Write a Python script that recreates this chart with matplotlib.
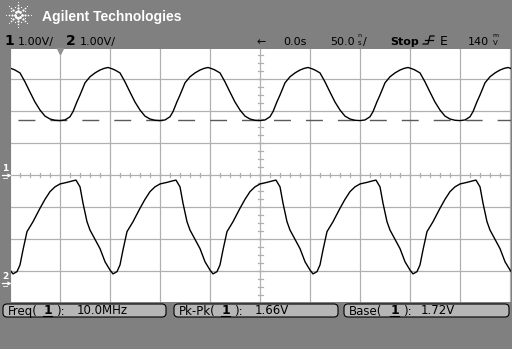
import numpy as np
import matplotlib.pyplot as plt
from matplotlib.patches import FancyBboxPatch

# one period of each trace: ns from period start, volts
ch1_t = [0, 4, 8, 12, 15, 20, 25, 30, 35, 40, 45, 50, 55, 60, 65, 70, 73, 77, 80, 85, 90, 95, 100]
ch1_v = [3.28, 3.33, 3.36, 3.32, 3.28, 3.19, 2.91, 2.59, 2.28, 2.03, 1.84, 1.75, 1.71, 1.70,
         1.72, 1.82, 1.98, 2.29, 2.50, 2.88, 3.07, 3.19, 3.28]
ch2_t = [0, 5, 10, 13, 17, 20, 23, 27, 33, 40, 45, 50, 55, 60, 67, 73, 76, 80, 83, 87, 90, 97, 100]
ch2_v = [1.06, 0.65, 0.39, 0.27, 0.34, 0.55, 1.02, 1.59, 1.90, 2.32, 2.60, 2.84, 2.99, 3.08,
         3.13, 3.18, 3.20, 2.99, 2.48, 1.90, 1.64, 1.23, 1.06]
period_starts = [-260, -160, -60, 40, 140, 240]   # ns, where each period begins on screen

ch_offsets = [0.0, -3.36]      # ground marker position, divisions from centre
volts_per_div = [1.00, 1.00]
base_level = 1.72

meas_names = ['Freq(', 'Pk-Pk(', 'Base(']
meas_values = ['10.0MHz', '1.66V', '1.72V']

BG = '#808080'
GRID = '#b0b0b0'


def build_trace(t_cycle, v_cycle):
    t_all, v_all = [], []
    for s in period_starts:
        t_all += [s + t for t in t_cycle[:-1]]
        v_all += v_cycle[:-1]
    t_all.append(period_starts[-1] + t_cycle[-1])
    v_all.append(v_cycle[-1])
    return np.array(t_all), np.array(v_all)


def screen(fig):
    ax = fig.add_axes([11 / 512, 1 - 302 / 349, 500 / 512, (302 - 49) / 349])
    ax.set_facecolor('white')
    ax.set_xlim(-249, 251)
    ax.set_ylim((175 - 302) / 32, (175 - 49) / 32)
    for s in ax.spines.values():
        s.set_visible(False)
    ax.set_xticks([])
    ax.set_yticks([])

    for k in range(-5, 6):
        ax.axvline(k * 50, color=GRID, lw=0.9)
    for k in range(-3, 4):
        ax.axhline(k, color=GRID, lw=0.9)
    # minor ticks on the centre lines
    for t in range(-240, 250, 10):
        ax.plot([t, t], [-0.07, 0.07], color=GRID, lw=0.9)
    for d in np.arange(-3.75, 4.0, 0.25):
        ax.plot([-2.5, 2.5], [d, d], color=GRID, lw=0.9)

    # base level marker of channel 1
    ax.axhline(ch_offsets[0] + base_level / volts_per_div[0], color='#5a5a5a', lw=1.0,
               linestyle=(18, (12.2, 10.8)))

    t1, v1 = build_trace(ch1_t, ch1_v)
    t2, v2 = build_trace(ch2_t, ch2_v)
    ax.plot(t1, ch_offsets[0] + v1 / volts_per_div[0], color='black', lw=1.0)
    ax.plot(t2, ch_offsets[1] + v2 / volts_per_div[1], color='black', lw=1.0)

    # trigger position marker
    ax.plot([-200], [3.87], marker='v', ms=5, color='#909090', clip_on=False)
    return ax


def overlay(fig):
    ov = fig.add_axes([0, 0, 1, 1])
    ov.set_xlim(0, 512)
    ov.set_ylim(349, 0)
    ov.axis('off')
    ov.patch.set_alpha(0)

    # Agilent spark logo
    cx, cy = 18, 14.5
    for a in range(8):
        ang = a * np.pi / 4
        for r, sz in [(3.5, 2.0), (6.5, 1.6), (9.5, 1.2), (12.5, 0.8)]:
            ov.plot(cx + r * np.cos(ang), cy + r * np.sin(ang), 'o', color='white', ms=sz, mew=0)
    for a in range(8):
        ang = a * np.pi / 4 + np.pi / 8
        ov.plot(cx + 8 * np.cos(ang), cy + 8 * np.sin(ang), 'o', color='white', ms=0.9, mew=0)
    ov.text(42, 21.5, 'Agilent Technologies', color='white', fontsize=10,
            fontweight='bold', family='Liberation Sans', va='baseline')

    # channel scale line
    ov.text(4, 45, '1', fontsize=10, fontweight='bold', va='baseline')
    ov.text(18, 45, '1.00V/', fontsize=8, va='baseline')
    ov.text(66, 45, '2', fontsize=10, fontweight='bold', va='baseline')
    ov.text(80, 45, '1.00V/', fontsize=8, va='baseline')
    ov.text(261, 45, '\u2190', fontsize=8, va='baseline', ha='center')
    ov.text(283, 45, '0.0s', fontsize=8, va='baseline')
    ov.text(330, 45, '50.0', fontsize=8, va='baseline')
    ov.text(359, 37, 'n', fontsize=4.5, va='baseline', ha='center')
    ov.text(359, 45, 's', fontsize=5, va='baseline', ha='center')
    ov.text(363, 45, '/', fontsize=8, va='baseline')
    ov.text(390, 45, 'Stop', fontsize=8, fontweight='bold', va='baseline')
    ov.plot([423, 428, 430, 434], [44, 44, 36, 36], color='black', lw=0.9)
    ov.plot([425, 433], [40, 40], color='black', lw=0.9)
    ov.text(440, 45, 'E', fontsize=9, va='baseline')
    ov.text(468, 45, '140', fontsize=8, va='baseline')
    ov.text(495, 37, 'm', fontsize=4.5, va='baseline', ha='center')
    ov.text(495, 45, 'V', fontsize=5, va='baseline', ha='center')

    # ground markers
    for lab, d in zip(['1', '2'], ch_offsets):
        y = 175 - d * 32
        ov.text(5, y - 4, lab, color='white', fontsize=6.5, fontweight='bold',
                ha='center', va='baseline')
        ov.plot([2, 9], [y, y], color='white', lw=0.9)
        ov.plot([9], [y], marker='>', ms=3, color='white', mew=0)
        ov.plot([3, 7], [y + 3, y + 3], color='white', lw=0.6)

    # measurement boxes
    boxes = [(3, 163), (174, 164), (344, 165)]
    text_x = [(8, 44, 56, 77), (179, 222, 234, 255), (349, 391, 403, 421)]
    for (bx, bw), (nx, ox, px, vx), name, val in zip(boxes, text_x, meas_names, meas_values):
        ov.add_patch(FancyBboxPatch((bx, 304), bw, 13,
                                    boxstyle='round,pad=0,rounding_size=4',
                                    fc='#b6b6b6', ec='black', lw=0.8))
        ov.text(nx, 314.5, name, fontsize=8.5, va='baseline')
        ov.text(ox, 314.5, '1', fontsize=9, fontweight='bold', va='baseline')
        ov.plot([ox - 1, ox + 8], [316, 316], color='black', lw=0.8)
        ov.text(px, 314.5, '):', fontsize=8.5, va='baseline')
        ov.text(vx, 314.5, val, fontsize=8.5, va='baseline')
    return ov


def main():
    fig = plt.figure(figsize=(5.12, 3.49), dpi=100)
    fig.patch.set_facecolor(BG)
    screen(fig)
    overlay(fig)
    fig.savefig('out.png', dpi=100, facecolor=BG)


if __name__ == '__main__':
    main()
